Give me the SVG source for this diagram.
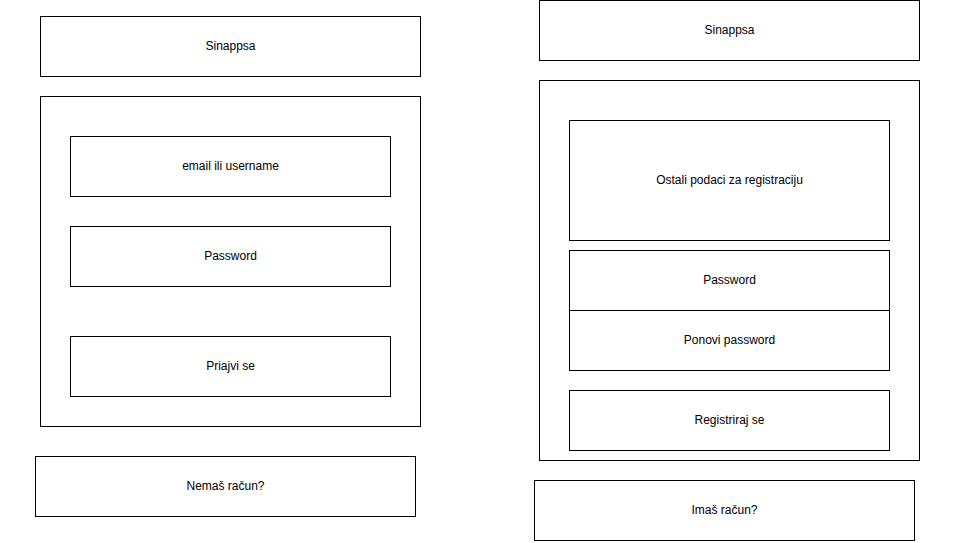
<svg xmlns="http://www.w3.org/2000/svg" width="962" height="543" viewBox="0 0 962 543">
<style>
rect{fill:#fff;stroke:#000;stroke-width:1}
text{font-family:"Liberation Sans",Arial,sans-serif;font-size:12px;fill:#000;text-anchor:middle;dominant-baseline:central}
</style>
<rect x="0" y="0" width="962" height="543" style="stroke:none"/>
<g id="left-title"><rect x="40.5" y="16.5" width="380" height="60"/><text x="230.5" y="45.5">Sinappsa</text></g>
<g id="left-container"><rect x="40.5" y="96.5" width="380" height="330"/></g>
<g id="left-email"><rect x="70.5" y="136.5" width="320" height="60"/><text x="230.5" y="165.5">email ili username</text></g>
<g id="left-password"><rect x="70.5" y="226.5" width="320" height="60"/><text x="230.5" y="255.5">Password</text></g>
<g id="left-login"><rect x="70.5" y="336.5" width="320" height="60"/><text x="230.5" y="365.5">Priajvi se</text></g>
<g id="left-noaccount"><rect x="35.5" y="456.5" width="380" height="60"/><text x="225.5" y="485.5">Nemaš račun?</text></g>
<g id="right-title"><rect x="539.5" y="0.5" width="380" height="60"/><text x="729.5" y="29.5">Sinappsa</text></g>
<g id="right-container"><rect x="539.5" y="80.5" width="380" height="380"/></g>
<g id="right-other"><rect x="569.5" y="120.5" width="320" height="120"/><text x="729.5" y="179.5">Ostali podaci za registraciju</text></g>
<g id="right-password"><rect x="569.5" y="250.5" width="320" height="60"/><text x="729.5" y="279.5">Password</text></g>
<g id="right-repeat"><rect x="569.5" y="310.5" width="320" height="60"/><text x="729.5" y="339.5">Ponovi password</text></g>
<g id="right-register"><rect x="569.5" y="390.5" width="320" height="60"/><text x="729.5" y="419.5">Registriraj se</text></g>
<g id="right-account"><rect x="534.5" y="480.5" width="380" height="60"/><text x="724.5" y="509.5">Imaš račun?</text></g>
<g id="connectors"/>
</svg>
